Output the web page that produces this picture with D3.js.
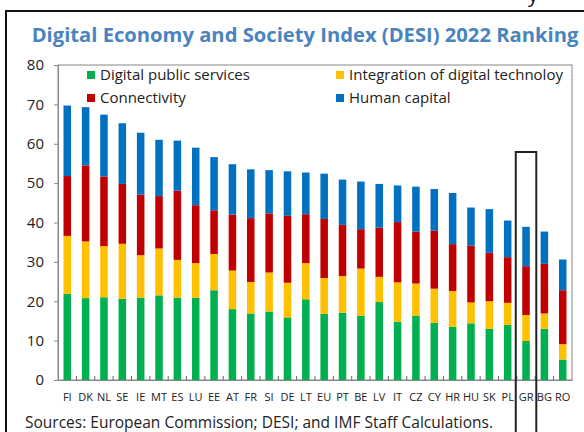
<!DOCTYPE html>
<html><head><meta charset="utf-8">
<script src="https://cdn.jsdelivr.net/npm/d3@7"></script>
<style>body{margin:0;background:#fff}svg{display:block}</style>
</head><body>
<script>
const categories = ["FI","DK","NL","SE","IE","MT","ES","LU","EE","AT","FR","SI","DE","LT","EU","PT","BE","LV","IT","CZ","CY","HR","HU","SK","PL","GR","BG","RO"];
const digitalPublic = [21.9,20.8,21.0,20.6,20.9,21.5,20.9,20.9,22.8,18.0,16.9,17.4,15.9,20.5,16.8,17.1,16.3,19.8,14.8,16.3,14.5,13.5,14.4,13.0,14.0,9.9,13.0,5.2];
const integration   = [14.7,14.4,13.0,14.0,10.8,11.9,9.6,8.8,9.2,9.8,8.0,9.9,8.8,9.2,9.1,9.3,12.0,6.4,10.0,8.2,8.7,9.1,5.3,7.0,5.6,6.6,3.9,3.9];
const connectivity  = [15.2,19.3,17.7,15.2,15.4,13.3,17.6,14.7,11.1,14.2,16.2,15.0,17.0,12.4,15.0,13.0,10.0,12.5,15.3,13.2,14.7,11.9,14.4,12.3,11.6,12.4,12.6,13.7];
const humanCapital  = [17.9,14.8,15.7,15.4,15.7,14.3,12.7,14.6,13.5,12.8,12.4,11.0,11.3,10.6,11.5,11.5,12.1,11.1,9.3,11.4,10.6,13.0,9.7,11.1,9.3,10.0,8.2,7.8];
const seriesNames = ["Digital public services","Integration of digital technoloy","Connectivity","Human capital"];
const seriesColors = ["#00B050","#FFC000","#C00000","#0070C0"];
const yTicks = [0,10,20,30,40,50,60,70,80];
const highlight = "GR";

(function(){
const W = 584, H = 432;
const font = "'Open Sans', 'Noto Sans', sans-serif";
const svg = d3.select("body").append("svg").attr("width", W).attr("height", H);

const pL = 58, pR = 572, pT = 65, pB = 380;
const x = d3.scaleBand().domain(categories).range([pL, pR]).paddingInner(0.59).paddingOuter(0.3);
const y = d3.scaleLinear().domain([0, 80]).range([pB, pT]);

// outer frame
svg.append("rect").attr("x", 6).attr("y", 11).attr("width", 620).attr("height", 460)
  .attr("fill", "none").attr("stroke", "#111").attr("stroke-width", 2);
// cut-off glyph at top
svg.append("text").attr("x", 528).attr("y", 2).attr("font-family", font).attr("font-size", 20).attr("fill", "#111").text("y");

// title
svg.append("text").attr("x", 305).attr("y", 42).attr("text-anchor", "middle")
  .attr("font-family", font).attr("font-weight", "bold").attr("font-size", 20.2)
  .attr("fill", "#4A84BE").text("Digital Economy and Society Index (DESI) 2022 Ranking");

// plot frame
svg.append("rect").attr("x", pL).attr("y", pT).attr("width", pR - pL).attr("height", pB - pT)
  .attr("fill", "none").attr("stroke", "#888").attr("stroke-width", 1);

// stacked data
const rows = categories.map((c, i) => ({cat: c, s0: digitalPublic[i], s1: integration[i], s2: connectivity[i], s3: humanCapital[i]}));
const stack = d3.stack().keys(["s0","s1","s2","s3"])(rows);
svg.append("g").selectAll("g").data(stack).join("g")
  .attr("fill", (d, i) => seriesColors[i])
  .selectAll("rect").data(d => d).join("rect")
  .attr("x", d => x(d.data.cat)).attr("width", x.bandwidth())
  .attr("y", d => y(d[1])).attr("height", d => y(d[0]) - y(d[1]));

// y axis
const yAxis = svg.append("g").attr("transform", `translate(${pL},0)`)
  .call(d3.axisLeft(y).tickValues(yTicks).tickSize(4).tickPadding(10));
yAxis.select(".domain").attr("stroke", "#888");
yAxis.selectAll(".tick line").attr("stroke", "#888");
yAxis.selectAll("text").attr("font-family", font).attr("font-size", 15).attr("fill", "#222");

// x axis
const xAxis = svg.append("g").attr("transform", `translate(0,${pB})`)
  .call(d3.axisBottom(x).tickSize(0).tickPadding(13));
xAxis.select(".domain").attr("stroke", "#888");
xAxis.selectAll("text").attr("font-family", font).attr("font-size", 11).attr("fill", "#222");
// boundary tick marks (pointing up)
const step = x.step();
const bounds = categories.slice(1).map(c => x(c) - (step - x.bandwidth()) / 2);
svg.append("g").selectAll("line").data(bounds).join("line")
  .attr("x1", d => d).attr("x2", d => d).attr("y1", pB).attr("y2", pB - 4)
  .attr("stroke", "#666").attr("stroke-width", 1);

// legend
const legendPos = [[87, 71], [336, 71], [87, 94], [336, 94]];
const lg = svg.append("g").selectAll("g").data(seriesNames).join("g")
  .attr("transform", (d, i) => `translate(${legendPos[i][0]},${legendPos[i][1]})`);
lg.append("rect").attr("width", 8).attr("height", 8).attr("fill", (d, i) => seriesColors[i]);
lg.append("text").attr("x", 13).attr("y", 9).attr("font-family", font).attr("font-size", 15)
  .attr("fill", "#222").text(d => d);

// highlight box
svg.append("rect").attr("x", x(highlight) - 6.5).attr("y", 152)
  .attr("width", x.bandwidth() + 13).attr("height", 300)
  .attr("fill", "none").attr("stroke", "#222").attr("stroke-width", 2);

// source
svg.append("text").attr("x", 25).attr("y", 428).attr("font-family", font).attr("font-size", 15.5)
  .attr("fill", "#222").text("Sources: European Commission; DESI; and IMF Staff Calculations.");
})();
</script>
</body></html>
